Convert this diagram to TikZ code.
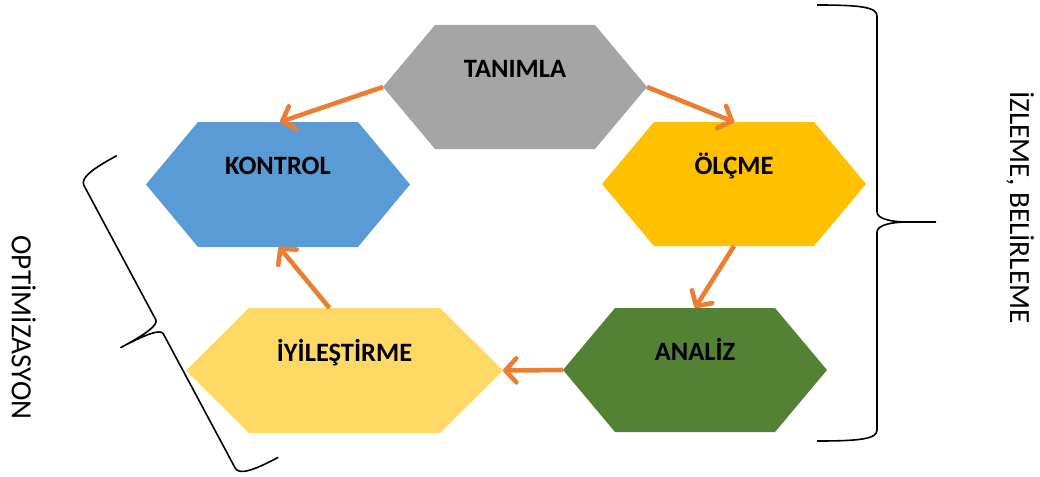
\documentclass[tikz,border=0pt]{standalone}
\usepackage{fontspec}
\setmainfont{Carlito}
\usetikzlibrary{arrows.meta}
\definecolor{cgray}{HTML}{A5A5A5}
\definecolor{cblue}{HTML}{5B9BD5}
\definecolor{cgold}{HTML}{FFC000}
\definecolor{cgreen}{HTML}{548235}
\definecolor{cyell}{HTML}{FFD966}
\definecolor{corange}{HTML}{ED7D31}
\tikzset{
  hexa/.style 2 args={rectangle, inner sep=0pt, outer sep=0pt,
    minimum width=264pt, minimum height=124pt,
    path picture={\fill[#1] (path picture bounding box.west)
      -- ([xshift=#2]path picture bounding box.north west)
      -- ([xshift=-#2]path picture bounding box.north east)
      -- (path picture bounding box.east)
      -- ([xshift=-#2]path picture bounding box.south east)
      -- ([xshift=#2]path picture bounding box.south west) -- cycle;}},
  lbl/.style={anchor=base, inner sep=0pt, font=\bfseries\fontsize{26.5}{30}\selectfont},
  side/.style={anchor=base, inner sep=0pt, rotate=-90, font=\fontsize{29.3}{32}\selectfont},
  arr/.style={draw=corange, line width=4.6pt,
    -{Straight Barb[length=11pt,width=24pt,round]}},
  brace/.style={draw=black, line width=1.6pt, line join=round}
}
\begin{document}
\begin{tikzpicture}[x=1pt,y=-1pt]
\useasboundingbox (0,0) rectangle (1040,476);

\node[hexa={cgray}{52pt}] (h1) at (515,87) {};
\node[hexa={cblue}{52pt}, minimum height=125pt] (h2) at (278,184.5) {};
\node[hexa={cgold}{52pt}] (h3) at (734,184) {};
\node[hexa={cgreen}{52pt}] (h4) at (695,370) {};
\node[hexa={cyell}{63pt}, minimum width=317pt, minimum height=125pt] (h5) at (344.5,370.5) {};

\node[lbl] (t1) at ([yshift=9pt]h1.center) {TANIMLA};
\node[lbl] (t2) at ([yshift=10pt]h2.center) {KONTROL};
\node[lbl] (t3) at ([yshift=9.5pt]h3.center) {ÖLÇME};
\node[lbl] (t4) at ([yshift=9.5pt]h4.center) {ANALİZ};
\node[lbl] (t5) at ([yshift=9.5pt]h5.center) {İYİLEŞTİRME};

\draw[arr] (h1.west) -- ([xshift=2pt]h2.north);
\draw[arr] (h1.east) -- (h3.north);
\draw[arr] (h3.south) -- (h4.north);
\draw[arr] (h4.west) -- (h5.east);
\draw[arr] ([xshift=-15pt]h5.north) -- ([xshift=1pt]h2.south);

% right brace
\draw[brace] (817,5) .. controls (860,5) and (877,7) .. (877,16)
  -- (877,212) .. controls (877,219) and (892,222) .. (907,222) -- (936,222)
  (907,222) .. controls (892,222) and (877,225) .. (877,232)
  -- (877,430) .. controls (877,439) and (860,441) .. (817,441);

% left brace (tilted)
\begin{scope}[shift={(197.5,306.5)}, x={(-0.882pt,-0.472pt)}, y={(0.472pt,-0.882pt)}]
\draw[brace] (0,-171) .. controls (30,-171) and (43,-168) .. (43,-160)
  -- (43,-8) .. controls (43,-2) and (60,0) .. (87,0)
  .. controls (60,0) and (43,2) .. (43,8)
  -- (43,160) .. controls (43,168) and (30,171) .. (0,171);
\end{scope}

\node[side] (s1) at (1010,207.5) {İZLEME, BELİRLEME};
\node[side] (s2) at (12,327.5) {OPTİMİZASYON};
\end{tikzpicture}
\end{document}
